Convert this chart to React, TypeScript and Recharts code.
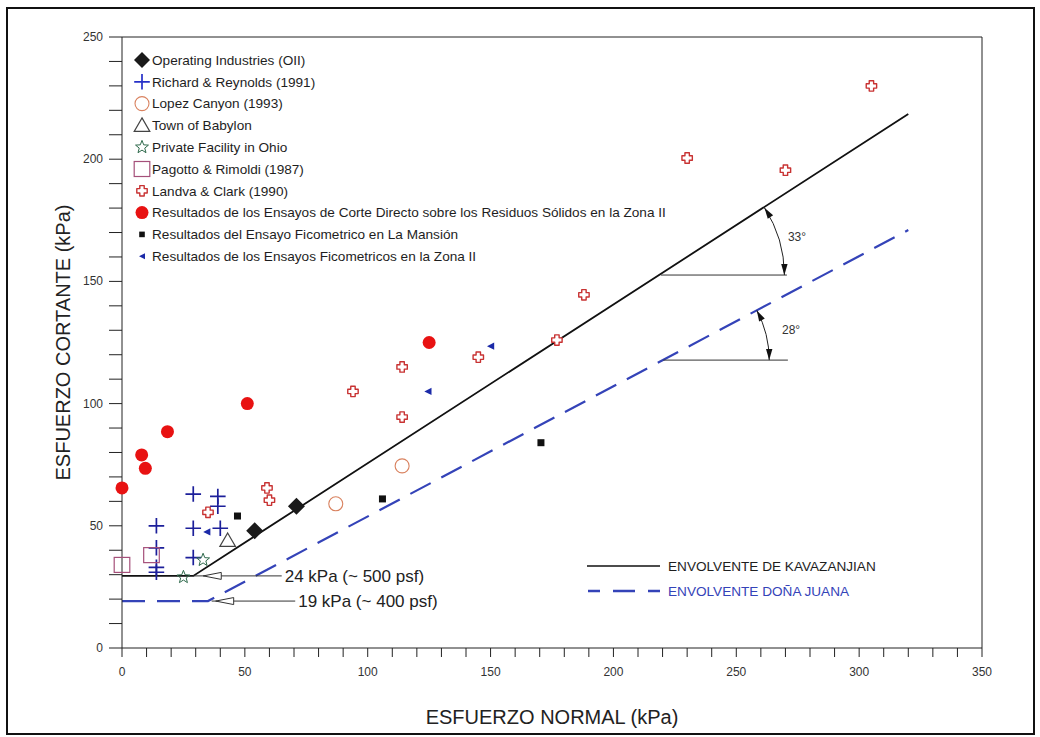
import React from "react";
import {
  ComposedChart,
  Scatter,
  Line,
  XAxis,
  YAxis,
  ReferenceLine,
  ReferenceDot,
  Legend,
} from "recharts";

const FONT = "'Liberation Sans', Arial, Helvetica, sans-serif";

// axis ticks (kPa)
const xTicks = [
  0, 10, 20, 30, 40, 50, 60, 70, 80, 90, 100, 110, 120, 130, 140, 150, 160, 170,
  180, 190, 200, 210, 220, 230, 240, 250, 260, 270, 280, 290, 300, 310, 320, 330,
  340, 350,
];
const yTicks = [
  0, 10, 20, 30, 40, 50, 60, 70, 80, 90, 100, 110, 120, 130, 140, 150, 160, 170,
  180, 190, 200, 210, 220, 230, 240, 250,
];

// measured points, normal stress (x) vs shear stress (y), kPa
const oiiX = [54, 71];
const oiiY = [48, 58];
const richardX = [14, 14, 14, 14, 29, 39, 39, 29, 40, 29];
const richardY = [50, 41, 33, 31, 63, 62, 58, 49, 49, 37];
const lopezX = [87, 114];
const lopezY = [59, 74.5];
const babylonX = [43];
const babylonY = [44];
const ohioX = [33, 25];
const ohioY = [36, 29];
const pagottoX = [0, 12];
const pagottoY = [34, 38];
const landvaX = [305, 230, 270, 188, 177, 145, 114, 94, 114, 59, 60, 35];
const landvaY = [230, 200.5, 195.5, 144.5, 126, 119, 115, 105, 94.5, 65.5, 60.5, 55.5];
const corteX = [0, 8, 9.5, 18.5, 51, 125];
const corteY = [65.5, 79, 73.5, 88.5, 100, 125];
const mansionX = [47, 106, 170.5];
const mansionY = [54, 61, 84];
const zona2X = [34.5, 124.5, 150];
const zona2Y = [47.5, 105, 123.5];

// strength envelopes
const kavX = [0, 29, 320];
const kavY = [29.5, 29.5, 218.5];
const juanaX = [0, 35, 320];
const juanaY = [19.2, 19.2, 171];

const pts = (xs: number[], ys: number[]) => xs.map((x, i) => ({ x, y: ys[i] }));

type Kind =
  | "diamond"
  | "plus"
  | "circle"
  | "triangle"
  | "star"
  | "square"
  | "cross"
  | "dot"
  | "smallSquare"
  | "leftTriangle";

const series: { name: string; kind: Kind; color: string; legendColor?: string; data: { x: number; y: number }[] }[] = [
  { name: "Operating Industries (OII)", kind: "diamond", color: "#1a1a1a", data: pts(oiiX, oiiY) },
  { name: "Richard & Reynolds (1991)", kind: "plus", color: "#1c1f9a", legendColor: "#2630c8", data: pts(richardX, richardY) },
  { name: "Lopez Canyon (1993)", kind: "circle", color: "#d9825f", data: pts(lopezX, lopezY) },
  { name: "Town of Babylon", kind: "triangle", color: "#444444", data: pts(babylonX, babylonY) },
  { name: "Private Facility in Ohio", kind: "star", color: "#2f6a4c", data: pts(ohioX, ohioY) },
  { name: "Pagotto & Rimoldi (1987)", kind: "square", color: "#a5507a", data: pts(pagottoX, pagottoY) },
  { name: "Landva & Clark (1990)", kind: "cross", color: "#c83232", data: pts(landvaX, landvaY) },
  {
    name: "Resultados de los Ensayos de Corte Directo sobre los Residuos Sólidos en la Zona II",
    kind: "dot",
    color: "#e81212",
    data: pts(corteX, corteY),
  },
  { name: "Resultados del Ensayo Ficometrico en La Mansión", kind: "smallSquare", color: "#111111", data: pts(mansionX, mansionY) },
  { name: "Resultados de los Ensayos Ficometricos en la Zona II", kind: "leftTriangle", color: "#1b2aa8", data: pts(zona2X, zona2Y) },
];

const KAV_NAME = "ENVOLVENTE DE KAVAZANJIAN";
const JUANA_NAME = "ENVOLVENTE DOÑA JUANA";
const JUANA_COLOR = "#3443b8";

function Marker({ kind, cx, cy, color, small }: { kind: Kind; cx: number; cy: number; color: string; small?: boolean }) {
  switch (kind) {
    case "diamond": {
      const s = small ? 8 : 8.5;
      return <path d={`M${cx},${cy - s}L${cx + s},${cy}L${cx},${cy + s}L${cx - s},${cy}Z`} fill={color} />;
    }
    case "plus": {
      const s = 7.8;
      return <path d={`M${cx - s},${cy}H${cx + s}M${cx},${cy - s}V${cy + s}`} stroke={color} strokeWidth={1.7} fill="none" />;
    }
    case "circle":
      return <circle cx={cx} cy={cy} r={7} fill="none" stroke={color} strokeWidth={1.1} />;
    case "triangle":
      return (
        <path
          d={`M${cx},${cy - 7.5}L${cx + 7.8},${cy + 6}L${cx - 7.8},${cy + 6}Z`}
          fill="none"
          stroke={color}
          strokeWidth={1.2}
        />
      );
    case "star": {
      let d = "";
      for (let i = 0; i < 10; i++) {
        const r = i % 2 === 0 ? 6.8 : 2.9;
        const a = -Math.PI / 2 + (i * Math.PI) / 5;
        d += `${i === 0 ? "M" : "L"}${cx + r * Math.cos(a)},${cy + r * Math.sin(a)}`;
      }
      return <path d={d + "Z"} fill="none" stroke={color} strokeWidth={1} />;
    }
    case "square":
      return <rect x={cx - 7.8} y={cy - 7.5} width={15.6} height={15} fill="none" stroke={color} strokeWidth={1.2} />;
    case "cross": {
      const a = 2.2;
      const l = 5.2;
      const d =
        `M${cx - a},${cy - l}H${cx + a}V${cy - a}H${cx + l}V${cy + a}H${cx + a}V${cy + l}` +
        `H${cx - a}V${cy + a}H${cx - l}V${cy - a}H${cx - a}Z`;
      return <path d={d} fill="#fff" stroke={color} strokeWidth={1.4} strokeLinejoin="round" />;
    }
    case "dot":
      return <circle cx={cx} cy={cy} r={6.5} fill={color} />;
    case "smallSquare": {
      const s = small ? 2.8 : 3.5;
      return <rect x={cx - s} y={cy - s} width={2 * s} height={2 * s} fill={color} />;
    }
    case "leftTriangle": {
      const s = small ? 3 : 3.6;
      return <path d={`M${cx - s},${cy}L${cx + s},${cy - s}L${cx + s},${cy + s}Z`} fill={color} />;
    }
  }
  return <g />;
}

// horizontal reference + curved double arrow for the friction angle
const angleShape = (deg: number, radiusRatio: number) => (p: any) => {
  const { x1, y1, x2, y2 } = p;
  const r = (x2 - x1) * radiusRatio;
  const t = (deg * Math.PI) / 180;
  const ax = x1 + r * Math.cos(t);
  const ay = y1 - r * Math.sin(t);
  const bx = x1 + r;
  const by = y1;
  const head = (tx: number, ty: number, dx: number, dy: number) => {
    const L = 11;
    const W = 3.2;
    const px = tx - dx * L;
    const py = ty - dy * L;
    return `M${tx},${ty}L${px - dy * W},${py + dx * W}L${px + dy * W},${py - dx * W}Z`;
  };
  return (
    <g>
      <line x1={x1} y1={y1} x2={x2} y2={y2} stroke="#333" strokeWidth={1} />
      <path d={`M${ax},${ay}A${r},${r} 0 0 1 ${bx},${by}`} fill="none" stroke="#222" strokeWidth={1} />
      <path d={head(ax, ay, -Math.sin(t), -Math.cos(t))} fill="#111" />
      <path d={head(bx, by, 0, 1)} fill="#111" />
    </g>
  );
};

// leader line with hollow arrow head pointing at the cohesion intercept
const pointerShape = (tipGap: number) => (p: any) => {
  const { x1, y1, x2 } = p;
  const tx = x1 + tipGap;
  return (
    <g>
      <line x1={x1} y1={y1} x2={x2} y2={y1} stroke="#333" strokeWidth={1} />
      <path d={`M${tx},${y1}L${tx + 18},${y1 - 3.5}L${tx + 18},${y1 + 3.5}Z`} fill="#fff" stroke="#333" strokeWidth={1} />
    </g>
  );
};

const YTick = (props: any) => {
  const { x, y, payload } = props;
  if (payload.value % 50 !== 0) return <g />;
  return (
    <text x={x} y={y} dy={4} textAnchor="end" fontSize={12} fill="#333" fontFamily={FONT}>
      {payload.value}
    </text>
  );
};

const XTick = (props: any) => {
  const { x, y, payload } = props;
  if (payload.value % 50 !== 0) return <g />;
  return (
    <text x={x} y={y} dy={15} textAnchor="middle" fontSize={12} fill="#333" fontFamily={FONT}>
      {payload.value}
    </text>
  );
};

const renderLegend = () => (
  <svg width={1040} height={737} style={{ display: "block" }}>
    {series.map((s, i) => {
      const cy = 60 + i * 21.8;
      return (
        <g key={s.name}>
          <Marker kind={s.kind} cx={142} cy={cy} color={s.legendColor ?? s.color} small />
          <text x={152} y={cy} dy="0.36em" fontSize={13.6} fill="#1e1e1e" fontFamily={FONT}>
            {s.name}
          </text>
        </g>
      );
    })}
    <line x1={587} x2={660} y1={566} y2={566} stroke="#111" strokeWidth={1.3} />
    <text x={668} y={566} dy="0.36em" fontSize={13.6} fill="#1e1e1e" fontFamily={FONT}>
      {KAV_NAME}
    </text>
    <line
      x1={588}
      x2={660}
      y1={591}
      y2={591}
      stroke={JUANA_COLOR}
      strokeWidth={2.4}
      strokeDasharray="22 13"
      strokeDashoffset={10}
    />
    <text x={668} y={591} dy="0.36em" fontSize={13.6} fill={JUANA_COLOR} fontFamily={FONT}>
      {JUANA_NAME}
    </text>
  </svg>
);

export default function App() {
  return (
    <div style={{ position: "absolute", left: 0, top: 0, width: 1040, height: 737, background: "#fff" }}>
      <div
        style={{
          position: "absolute",
          left: 6,
          top: 7,
          width: 1029,
          height: 728,
          border: "2px solid #111",
          boxSizing: "border-box",
        }}
      />
      <ComposedChart width={1040} height={737} margin={{ top: 37, right: 58, bottom: 0, left: 0 }}>
        <XAxis
          type="number"
          dataKey="x"
          domain={[0, 350]}
          ticks={xTicks}
          interval={0}
          height={89}
          tickSize={9}
          tickMargin={4}
          stroke="#222"
          tick={<XTick />}
          label={{
            value: "ESFUERZO NORMAL (kPa)",
            position: "insideBottom",
            offset: 13,
            fontSize: 20,
            fill: "#222",
            fontFamily: FONT,
          }}
        />
        <YAxis
          type="number"
          dataKey="y"
          domain={[0, 250]}
          ticks={yTicks}
          interval={0}
          width={122}
          tickSize={13}
          tickMargin={6}
          stroke="#222"
          tick={<YTick />}
          label={{
            value: "ESFUERZO CORTANTE (kPa)",
            angle: -90,
            position: "insideLeft",
            offset: 63,
            fontSize: 20,
            fill: "#222",
            fontFamily: FONT,
            style: { textAnchor: "middle" },
          }}
        />
        <ReferenceLine y={250} stroke="#222" strokeWidth={1} />
        <ReferenceLine x={350} stroke="#222" strokeWidth={1} />

        <Line
          data={pts(kavX, kavY)}
          dataKey="y"
          name={KAV_NAME}
          type="linear"
          stroke="#111"
          strokeWidth={1.8}
          dot={false}
          activeDot={false}
          isAnimationActive={false}
        />
        <Line
          data={pts(juanaX, juanaY)}
          dataKey="y"
          name={JUANA_NAME}
          type="linear"
          stroke={JUANA_COLOR}
          strokeWidth={2.2}
          strokeDasharray="23 12"
          dot={false}
          activeDot={false}
          isAnimationActive={false}
        />

        <ReferenceLine
          segment={[
            { x: 29, y: 29.5 },
            { x: 65, y: 29.5 },
          ]}
          shape={pointerShape(10)}
          label={{ value: "24 kPa (~ 500 psf)", position: "right", offset: 3, fontSize: 17, fill: "#222", fontFamily: FONT }}
        />
        <ReferenceLine
          segment={[
            { x: 36.5, y: 19.2 },
            { x: 70.5, y: 19.2 },
          ]}
          shape={pointerShape(4)}
          label={{ value: "19 kPa (~ 400 psf)", position: "right", offset: 3, fontSize: 17, fill: "#222", fontFamily: FONT }}
        />
        <ReferenceLine
          segment={[
            { x: 219.3, y: 152.6 },
            { x: 270.6, y: 152.6 },
          ]}
          shape={angleShape(33, 0.98)}
        />
        <ReferenceLine
          segment={[
            { x: 220.3, y: 117.8 },
            { x: 271, y: 117.8 },
          ]}
          shape={angleShape(28, 0.85)}
        />
        <ReferenceDot
          x={274.7}
          y={168.2}
          r={0}
          fill="none"
          stroke="none"
          label={{ value: "33°", position: "center", fontSize: 12, fill: "#333", fontFamily: FONT }}
        />
        <ReferenceDot
          x={272.3}
          y={130.1}
          r={0}
          fill="none"
          stroke="none"
          label={{ value: "28°", position: "center", fontSize: 12, fill: "#333", fontFamily: FONT }}
        />

        {series.map((s) => (
          <Scatter
            key={s.name}
            name={s.name}
            data={s.data}
            fill={s.color}
            isAnimationActive={false}
            shape={(p: any) => <Marker kind={s.kind} cx={p.cx} cy={p.cy} color={s.color} />}
          />
        ))}

        <Legend
          layout="horizontal"
          verticalAlign="middle"
          align="center"
          wrapperStyle={{ left: 0, top: 0, width: 1040, height: 737, pointerEvents: "none" }}
          content={renderLegend}
        />
      </ComposedChart>
    </div>
  );
}
